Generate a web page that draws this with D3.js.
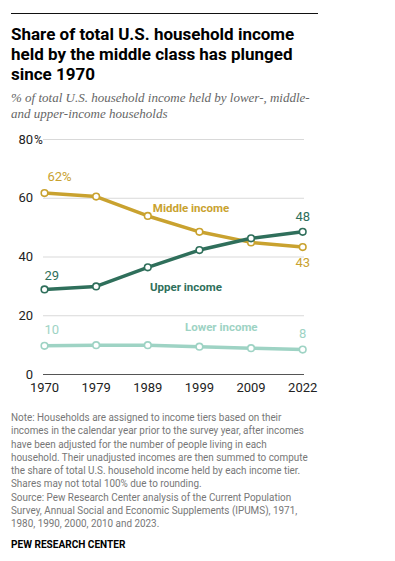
<!DOCTYPE html>
<html>
<head>
<meta charset="utf-8">
<script src="https://cdn.jsdelivr.net/npm/d3@7"></script>
<style>
  body { margin: 0; background: #fff; }
  #chart { width: 395px; height: 561px; }
  text { font-family: Roboto, "Liberation Sans", sans-serif; }
</style>
</head>
<body>
<div id="chart"></div>
<script>
const years = ["1970", "1979", "1989", "1999", "2009", "2022"];
const middleIncome = [61.6, 60.4, 53.8, 48.4, 44.8, 43.2];
const upperIncome = [28.8, 29.8, 36.3, 42.2, 46.2, 48.4];
const lowerIncome = [9.6, 9.8, 9.8, 9.3, 8.8, 8.3];
const yTicks = [0, 20, 40, 60, 80];

const titleLines = [
  "Share of total U.S. household income",
  "held by the middle class has plunged",
  "since 1970"
];
const subtitleLines = [
  "% of total U.S. household income held by lower-, middle-",
  "and upper-income households"
];
const noteLines = [
  "Note: Households are assigned to income tiers based on their",
  "incomes in the calendar year prior to the survey year, after incomes",
  "have been adjusted for the number of people living in each",
  "household. Their unadjusted incomes are then summed to compute",
  "the share of total U.S. household income held by each income tier.",
  "Shares may not total 100% due to rounding.",
  "Source: Pew Research Center analysis of the Current Population",
  "Survey, Annual Social and Economic Supplements (IPUMS), 1971,",
  "1980, 1990, 2000, 2010 and 2023."
];

const series = [
  { name: "Middle income", values: middleIncome, color: "#c9a22f",
    first: "62%", last: "43", firstDy: -12, lastDy: 20, lx: 191, ly: 212, anchor: "middle" },
  { name: "Upper income", values: upperIncome, color: "#2f6f5b",
    first: "29", last: "48", firstDy: -9, lastDy: -11, lx: 150, ly: 291, anchor: "start" },
  { name: "Lower income", values: lowerIncome, color: "#9ed3c4",
    first: "10", last: "8", firstDy: -12, lastDy: -12, lx: 185, ly: 331, anchor: "start" }
];

const svg = d3.select("#chart").append("svg").attr("width", 395).attr("height", 561);

svg.append("line").attr("x1", 11).attr("x2", 318).attr("y1", 13.5).attr("y2", 13.5)
  .attr("stroke", "#111").attr("stroke-width", 1);

svg.append("g").selectAll("text").data(titleLines).enter().append("text")
  .attr("x", 11).attr("y", (d, i) => 40 + i * 20)
  .attr("font-size", 17).attr("font-weight", 700).attr("fill", "#000")
  .text(d => d);

svg.append("g").selectAll("text").data(subtitleLines).enter().append("text")
  .attr("x", 11).attr("y", (d, i) => 102 + i * 15.5)
  .style("font-family", "'Liberation Serif', serif").attr("font-style", "italic")
  .attr("font-size", 13).attr("fill", "#666").text(d => d);

const x = d3.scalePoint().domain(years).range([44.5, 302.7]);
const y = d3.scaleLinear().domain([0, 80]).range([374, 139]);

const g = svg.append("g");

g.selectAll(".grid").data(yTicks).enter().append("line")
  .attr("x1", 43).attr("x2", 304)
  .attr("y1", d => y(d) + 0.5).attr("y2", d => y(d) + 0.5)
  .attr("stroke", d => d === 0 ? "#555" : "#d9d9d9").attr("stroke-width", 1);

g.selectAll(".ytick").data(yTicks).enter().append("text")
  .attr("x", 33).attr("y", d => y(d) + 4.5).attr("text-anchor", "end")
  .attr("font-size", 13).attr("fill", "#222").text(d => d);
g.append("text").attr("x", 34).attr("y", y(80) + 4.5)
  .attr("font-size", 12).attr("fill", "#222").text("%");

g.selectAll(".xtick").data(years).enter().append("text")
  .attr("x", d => x(d)).attr("y", 392).attr("text-anchor", "middle")
  .attr("font-size", 13).attr("fill", "#222").text(d => d);

const line = d3.line().x((d, i) => x(years[i])).y(d => y(d));

series.forEach(s => {
  g.append("path").attr("d", line(s.values)).attr("fill", "none")
    .attr("stroke", s.color).attr("stroke-width", 3.5).attr("stroke-linejoin", "round");
  g.selectAll(null).data(s.values).enter().append("circle")
    .attr("cx", (d, i) => x(years[i])).attr("cy", d => y(d)).attr("r", 3.3)
    .attr("fill", "#fff").attr("stroke", s.color).attr("stroke-width", 1.6);

  const n = s.values.length - 1;
  g.append("text").attr("x", x(years[0]) + (s.first.length > 2 ? 3 : 0))
    .attr("y", y(s.values[0]) + s.firstDy)
    .attr("font-size", 13).attr("fill", s.color).text(s.first);
  g.append("text").attr("x", x(years[n])).attr("y", y(s.values[n]) + s.lastDy)
    .attr("text-anchor", "middle").attr("font-size", 13).attr("fill", s.color).text(s.last);

  g.append("text").attr("x", s.lx).attr("y", s.ly).attr("text-anchor", s.anchor)
    .attr("font-size", 11.5).attr("font-weight", 700).attr("fill", s.color).text(s.name);
});

// the source uses a condensed face; squeeze Roboto horizontally to match
const notes = svg.append("g").attr("transform", "translate(11,0) scale(0.9,1)");
notes.selectAll("text").data(noteLines).enter().append("text")
  .attr("x", 0).attr("y", (d, i) => 421 + i * 13.3)
  .attr("font-size", 11).attr("fill", "#777").text(d => d);

notes.append("text").attr("x", 0).attr("y", 548.5)
  .attr("font-size", 11.2).attr("font-weight", 700).attr("fill", "#000")
  .text("PEW RESEARCH CENTER");
</script>
</body>
</html>
